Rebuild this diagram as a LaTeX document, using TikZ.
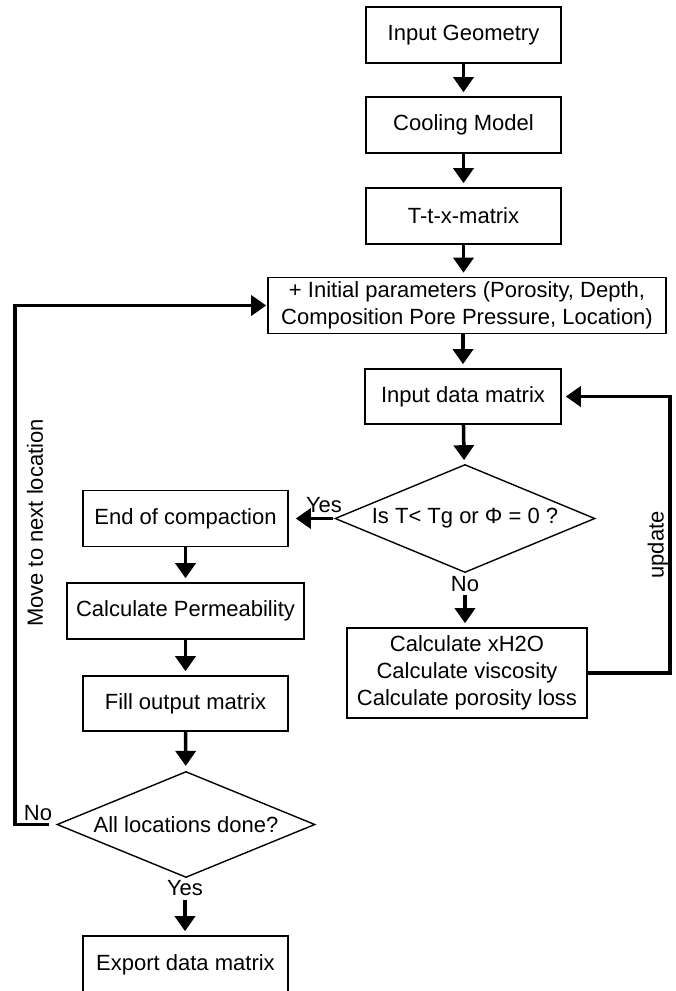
\documentclass[tikz,border=0pt]{standalone}
\usepackage{fontspec}
\setmainfont{Liberation Sans}
\usetikzlibrary{shapes.geometric,arrows.meta}
\begin{document}
\begin{tikzpicture}[x=1pt,y=-1pt,
  txt/.style={font=\fontsize{22}{27}\selectfont},
  box/.style={txt,draw,line width=1.6pt,rectangle,inner sep=2pt,align=center},
  dia/.style={txt,draw,line width=1.4pt,diamond,inner sep=0pt,aspect=2.4},
  lbl/.style={txt,inner sep=0pt},
  arr/.style={line width=3.5pt,-{Triangle[width=20pt,length=15pt]},shorten >=4pt},
  looparr/.style={line width=3.5pt,-{Triangle[width=20pt,length=15pt]}}
]
\useasboundingbox (0,0) rectangle (675,991);
% boxes
\node[box,minimum width=195pt,minimum height=56pt] (geo) at (463.5,35) {Input Geometry};
\node[box,minimum width=195pt,minimum height=56pt] (cool) at (463.5,125) {Cooling Model};
\node[box,minimum width=195pt,minimum height=56pt] (ttx) at (463.5,216) {T-t-x-matrix};
\node[box,minimum width=398pt,minimum height=56pt] (init) at (467,305.5) {+ Initial parameters (Porosity, Depth,\\Composition Pore Pressure, Location)};
\node[box,minimum width=196pt,minimum height=55pt] (idm) at (463,396.5) {Input data matrix};
\node[dia,minimum width=260pt,minimum height=108pt] (d1) at (465,518.5) {Is T< Tg or Φ = 0 ?};
\node[box,minimum width=240pt,minimum height=90pt] (calc) at (467,673) {Calculate xH2O\\Calculate viscosity\\Calculate porosity loss};
\node[box,minimum width=205pt,minimum height=56pt] (eoc) at (185.5,518.5) {End of compaction};
\node[box,minimum width=237pt,minimum height=56pt] (perm) at (185.5,611) {Calculate Permeability};
\node[box,minimum width=205pt,minimum height=55pt] (fill) at (185.5,703.5) {Fill output matrix};
\node[dia,minimum width=258pt,minimum height=106pt] (d2) at (186,824.5) {All locations done?};
\node[box,minimum width=205pt,minimum height=58pt] (exp) at (185.5,965) {Export data matrix};
% labels
\node[lbl] (yes1) at (324,505) {Yes};
\node[lbl] (no1) at (465,584.5) {No};
\node[lbl] (no2) at (38,813) {No};
\node[lbl] (yes2) at (185,888) {Yes};
\node[lbl,rotate=90] (move) at (35,523) {Move to next location};
\node[lbl,rotate=90] (upd) at (658,545) {update};
% helper coordinates
\coordinate (lf) at (15,0);
\coordinate (rt) at (670,0);
% arrows
\draw[arr] (geo) -- (cool);
\draw[arr] (cool) -- (ttx);
\draw[arr] (ttx.south) -- (ttx.south |- init.north);
\draw[arr] (idm.north |- init.south) -- (idm.north);
\draw[arr] (idm) -- (d1);
\draw[arr,shorten >=7pt,shorten <=1pt] (d1.west) -- (d1.west -| eoc.east);
\draw[arr,shorten <=3pt] (no1.south) -- (no1.south |- calc.north);
\draw[arr] (eoc) -- (perm);
\draw[arr] (perm) -- (fill);
\draw[arr,shorten >=5pt] (fill) -- (d2);
\draw[arr,shorten <=4pt] (yes2.south) -- (yes2.south |- exp.north);
\draw[looparr,shorten >=4pt] (calc.east) -- (calc.east -| rt) |- (idm.east);
\draw[looparr,shorten <=7pt,shorten >=1pt] (d2.west) -- (d2.west -| lf) |- (init.west);
\end{tikzpicture}
\end{document}
